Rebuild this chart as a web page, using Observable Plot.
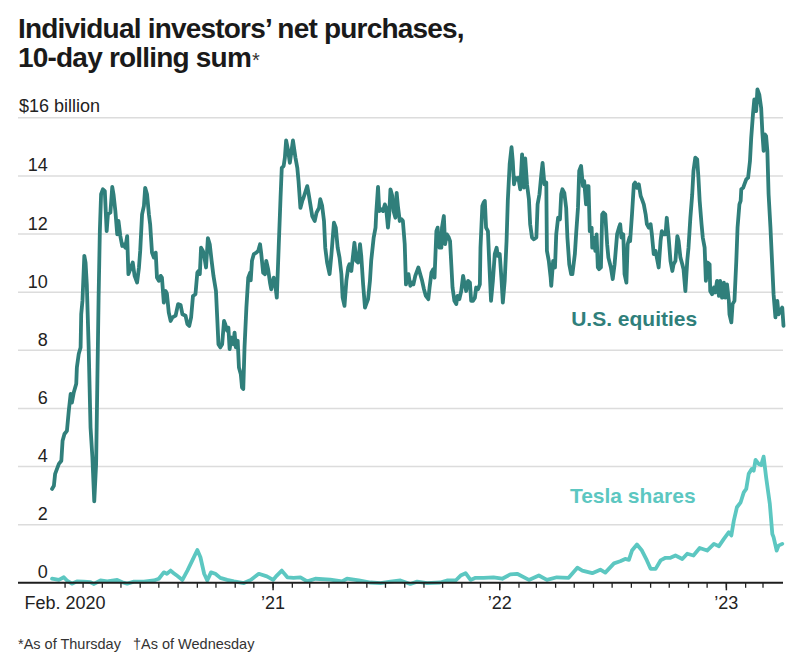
<!DOCTYPE html>
<html><head><meta charset="utf-8">
<script src="https://cdn.jsdelivr.net/npm/d3@7"></script>
<script src="https://cdn.jsdelivr.net/npm/@observablehq/plot@0.6"></script>
<style>
body{margin:0;background:#fff;width:806px;height:666px;overflow:hidden;position:relative;font-family:"Liberation Sans",Arial,sans-serif;}
#chart{position:absolute;left:0;top:0}
#title{position:absolute;left:18px;top:13.5px;font-weight:700;font-size:28px;line-height:29px;color:#1a1a1a;letter-spacing:-0.8px;white-space:nowrap}
#title .ast{font-size:20px;font-weight:400;letter-spacing:0;color:#333;margin-left:1px}
#note{position:absolute;left:18px;top:636px;font-size:14.5px;color:#333;white-space:nowrap}
</style></head>
<body>
<div id="chart"></div>
<div id="title">Individual investors’ net purchases,<br>10-day rolling sum<span class="ast">*</span></div>
<div id="note">*As of Thursday&nbsp;&nbsp;&nbsp;†As of Wednesday</div>
<script>
const equityDates = ["2020-01-11","2020-01-14","2020-01-16","2020-01-22","2020-01-26","2020-01-28","2020-01-31","2020-02-04","2020-02-07","2020-02-10","2020-02-12","2020-02-15","2020-02-19","2020-02-20","2020-02-23","2020-02-26","2020-02-27","2020-02-29","2020-03-03","2020-03-05","2020-03-07","2020-03-10","2020-03-13","2020-03-16","2020-03-19","2020-03-22","2020-03-24","2020-03-26","2020-03-28","2020-03-30","2020-04-02","2020-04-05","2020-04-08","2020-04-10","2020-04-14","2020-04-17","2020-04-19","2020-04-22","2020-04-25","2020-04-27","2020-04-30","2020-05-03","2020-05-05","2020-05-08","2020-05-11","2020-05-13","2020-05-16","2020-05-20","2020-05-23","2020-05-27","2020-05-30","2020-06-01","2020-06-04","2020-06-07","2020-06-09","2020-06-12","2020-06-15","2020-06-17","2020-06-20","2020-06-23","2020-06-26","2020-06-28","2020-07-01","2020-07-04","2020-07-06","2020-07-09","2020-07-12","2020-07-14","2020-07-17","2020-07-20","2020-07-23","2020-07-28","2020-08-01","2020-08-05","2020-08-08","2020-08-13","2020-08-16","2020-08-19","2020-08-22","2020-08-25","2020-08-29","2020-09-01","2020-09-03","2020-09-05","2020-09-07","2020-09-10","2020-09-12","2020-09-15","2020-09-18","2020-09-21","2020-09-24","2020-09-27","2020-10-01","2020-10-03","2020-10-05","2020-10-08","2020-10-11","2020-10-14","2020-10-16","2020-10-19","2020-10-21","2020-10-23","2020-10-26","2020-10-29","2020-10-31","2020-11-02","2020-11-05","2020-11-07","2020-11-10","2020-11-12","2020-11-14","2020-11-16","2020-11-19","2020-11-22","2020-11-25","2020-11-26","2020-11-28","2020-12-01","2020-12-05","2020-12-08","2020-12-11","2020-12-13","2020-12-16","2020-12-19","2020-12-21","2020-12-24","2020-12-27","2020-12-29","2021-01-02","2021-01-05","2021-01-07","2021-01-10","2021-01-13","2021-01-15","2021-01-18","2021-01-20","2021-01-22","2021-01-25","2021-01-28","2021-02-02","2021-02-06","2021-02-09","2021-02-11","2021-02-14","2021-02-17","2021-02-19","2021-02-25","2021-02-27","2021-03-02","2021-03-05","2021-03-09","2021-03-12","2021-03-16","2021-03-18","2021-03-21","2021-03-24","2021-03-26","2021-03-29","2021-04-02","2021-04-05","2021-04-09","2021-04-12","2021-04-15","2021-04-18","2021-04-21","2021-04-23","2021-04-26","2021-04-29","2021-05-02","2021-05-04","2021-05-07","2021-05-10","2021-05-12","2021-05-15","2021-05-18","2021-05-21","2021-05-23","2021-05-26","2021-05-29","2021-05-31","2021-06-03","2021-06-06","2021-06-08","2021-06-12","2021-06-15","2021-06-16","2021-06-19","2021-06-21","2021-06-24","2021-06-27","2021-06-30","2021-07-02","2021-07-05","2021-07-07","2021-07-09","2021-07-12","2021-07-14","2021-07-17","2021-07-19","2021-07-21","2021-07-24","2021-07-27","2021-07-29","2021-08-01","2021-08-03","2021-08-05","2021-08-07","2021-08-10","2021-08-13","2021-08-15","2021-08-18","2021-08-23","2021-08-26","2021-08-29","2021-09-01","2021-09-04","2021-09-08","2021-09-10","2021-09-13","2021-09-16","2021-09-18","2021-09-21","2021-09-23","2021-09-26","2021-09-29","2021-09-30","2021-10-03","2021-10-05","2021-10-08","2021-10-11","2021-10-13","2021-10-15","2021-10-17","2021-10-20","2021-10-23","2021-10-25","2021-10-28","2021-10-31","2021-11-03","2021-11-05","2021-11-08","2021-11-11","2021-11-14","2021-11-16","2021-11-19","2021-11-22","2021-11-24","2021-11-27","2021-11-30","2021-12-01","2021-12-04","2021-12-06","2021-12-08","2021-12-10","2021-12-13","2021-12-15","2021-12-18","2021-12-21","2021-12-24","2021-12-27","2021-12-29","2022-01-01","2022-01-04","2022-01-06","2022-01-09","2022-01-12","2022-01-14","2022-01-17","2022-01-20","2022-01-22","2022-01-24","2022-01-26","2022-01-29","2022-01-31","2022-02-03","2022-02-06","2022-02-09","2022-02-11","2022-02-14","2022-02-17","2022-02-19","2022-02-22","2022-02-25","2022-03-01","2022-03-03","2022-03-06","2022-03-09","2022-03-11","2022-03-14","2022-03-17","2022-03-18","2022-03-21","2022-03-24","2022-03-25","2022-03-28","2022-03-31","2022-04-02","2022-04-05","2022-04-08","2022-04-10","2022-04-12","2022-04-15","2022-04-18","2022-04-20","2022-04-23","2022-04-26","2022-04-28","2022-05-02","2022-05-04","2022-05-07","2022-05-09","2022-05-12","2022-05-15","2022-05-17","2022-05-20","2022-05-22","2022-05-24","2022-05-26","2022-05-29","2022-05-30","2022-06-01","2022-06-04","2022-06-06","2022-06-08","2022-06-10","2022-06-13","2022-06-15","2022-06-17","2022-06-20","2022-06-23","2022-06-25","2022-06-29","2022-07-02","2022-07-05","2022-07-09","2022-07-12","2022-07-14","2022-07-16","2022-07-19","2022-07-21","2022-07-24","2022-07-26","2022-07-29","2022-07-30","2022-08-02","2022-08-05","2022-08-07","2022-08-10","2022-08-13","2022-08-16","2022-08-18","2022-08-21","2022-08-24","2022-08-26","2022-08-29","2022-09-01","2022-09-03","2022-09-06","2022-09-09","2022-09-11","2022-09-14","2022-09-17","2022-09-19","2022-09-22","2022-09-25","2022-09-27","2022-09-30","2022-10-03","2022-10-06","2022-10-08","2022-10-11","2022-10-14","2022-10-16","2022-10-19","2022-10-22","2022-10-24","2022-10-27","2022-10-30","2022-11-01","2022-11-04","2022-11-07","2022-11-09","2022-11-12","2022-11-15","2022-11-17","2022-11-19","2022-11-22","2022-11-24","2022-11-27","2022-11-29","2022-12-02","2022-12-05","2022-12-06","2022-12-09","2022-12-12","2022-12-14","2022-12-17","2022-12-20","2022-12-22","2022-12-25","2022-12-28","2022-12-30","2023-01-02","2023-01-05","2023-01-06","2023-01-09","2023-01-11","2023-01-14","2023-01-17","2023-01-19","2023-01-22","2023-01-24","2023-01-25","2023-01-28","2023-01-30","2023-02-02","2023-02-05","2023-02-08","2023-02-10","2023-02-13","2023-02-15","2023-02-18","2023-02-20","2023-02-23","2023-02-26","2023-02-28","2023-03-02","2023-03-04","2023-03-06","2023-03-08","2023-03-10","2023-03-13","2023-03-16","2023-03-18","2023-03-21","2023-03-24","2023-03-26","2023-03-29","2023-04-01","2023-04-03"];
const equityValues = [3.23,3.34,3.75,4.09,4.2,4.89,5.12,5.23,5.92,6.5,6.2,6.55,6.85,7.41,7.87,8.1,9.24,9.7,11.25,11.02,10.27,8.1,5.35,4.32,2.8,4.09,6.95,9.81,12.1,13.37,13.54,13.48,12.1,12.68,12.74,13.62,13.37,12.79,11.99,12.45,11.93,11.59,11.65,11.53,11.93,10.62,10.79,11.02,10.56,10.33,10.85,11.42,12.68,12.97,13.59,13.37,12.68,12.34,11.36,11.19,11.36,10.5,10.39,10.56,10.5,9.64,10.04,9.95,9.3,9.01,9.13,9.19,9.59,9.56,9.24,9.19,8.9,8.84,9.13,9.87,9.93,10.67,10.73,10.62,11.53,11.42,11.25,10.85,11.86,11.65,11.08,10.56,10.04,9.13,8.21,8.1,8.21,9.01,8.9,8.67,8.78,8.04,8.44,8.21,8.61,8.1,8.33,7.41,7.18,6.72,6.67,8.1,9.47,10.5,10.67,10.41,11.08,11.31,11.36,11.42,11.65,11.31,10.67,10.62,11.08,10.79,10.33,10.1,10.5,10.16,9.81,11.53,13.25,14.28,14.34,14.63,15.22,14.9,14.45,15.22,14.63,14.28,13.82,12.9,13.14,13.25,13.65,13.42,13.02,12.62,12.45,12.74,12.9,13.2,12.97,12.45,11.53,11.02,10.62,11.31,12.39,12.22,11.53,11.19,10.62,9.81,9.53,10.39,10.85,10.96,10.73,11.31,11.7,11.08,11.02,11.65,11.25,10.27,9.47,9.59,9.76,10.39,11.08,11.88,12.22,12.68,13.62,12.79,12.85,12.79,13.02,12.9,12.22,12.68,13.54,13.31,12.79,12.56,13.42,12.97,12.45,12.51,12.45,11.65,10.27,10.5,10.62,10.22,10.33,10.27,10.56,10.85,10.62,10.39,10.1,9.87,9.76,10.16,10.67,10.79,10.5,12.1,12.22,11.53,11.53,12.22,12.62,11.65,11.99,11.88,11.76,10.96,10.16,9.7,9.59,9.87,9.76,10.04,10.56,10.33,10.04,10.39,10.33,9.7,9.7,9.81,10.16,10.1,10.27,11.53,12.97,13.08,13.14,12.22,12.1,11.08,9.7,10.39,11.31,11.53,11.25,11.31,10.39,9.64,10.39,11.76,13.14,14.4,14.99,14.51,13.71,13.94,13.88,13.94,13.54,14.74,13.6,14.6,13.7,13.2,12.34,11.88,11.82,11.88,13.02,13.37,14.05,14.45,13.71,13.77,11.42,11.08,10.5,10.22,11.08,10.85,11.99,12.56,12.51,13.37,13.54,13.42,12.9,11.88,10.96,10.62,10.62,11.31,11.99,12.9,14.17,14.34,13.65,13.82,13.02,13.65,13.65,12.1,12.22,11.53,11.88,11.42,11.99,10.85,10.79,10.85,12.68,12.74,12.68,11.65,11.19,10.85,10.45,10.96,11.99,12.22,12.34,11.88,11.99,10.62,10.33,11.65,11.88,11.76,12.68,13.71,13.77,13.59,13.71,13.31,13.2,13.02,12.68,12.34,12.22,12.34,11.99,11.31,11.42,11.19,10.85,11.76,12.1,11.99,11.99,12.56,11.88,11.08,10.73,10.96,11.08,11.93,11.76,11.19,10.96,10.79,10.04,11.08,11.53,12.56,13.37,14.17,14.63,14.57,13.94,13.14,12.34,11.88,11.53,10.39,11.02,10.96,10.04,9.93,10.16,9.99,10.39,9.87,10.39,9.81,10.33,9.81,10.27,9.7,9.24,8.96,9.59,9.7,11.08,12.22,13.02,13.14,13.54,13.59,13.71,13.88,13.94,14.51,15.31,16.17,16.63,16.23,16.98,16.8,16.34,15.48,14.86,15.43,15.37,14.86,13.37,12.22,10.85,9.93,9.13,9.7,9.24,9.36,9.47,8.84];

const teslaDates = ["2020-01-11","2020-01-22","2020-01-30","2020-02-04","2020-02-12","2020-02-20","2020-03-02","2020-03-13","2020-03-18","2020-03-29","2020-04-09","2020-04-25","2020-05-03","2020-05-11","2020-05-22","2020-06-07","2020-06-23","2020-07-01","2020-07-09","2020-07-14","2020-07-20","2020-07-25","2020-07-30","2020-08-08","2020-08-16","2020-08-24","2020-09-01","2020-09-06","2020-09-12","2020-09-17","2020-09-23","2020-09-30","2020-10-08","2020-10-19","2020-10-30","2020-11-15","2020-11-26","2020-12-09","2020-12-22","2021-01-01","2021-01-07","2021-01-15","2021-01-24","2021-02-03","2021-02-14","2021-02-25","2021-03-10","2021-04-03","2021-04-22","2021-04-30","2021-05-19","2021-06-07","2021-06-23","2021-07-09","2021-07-25","2021-08-10","2021-08-21","2021-09-06","2021-09-27","2021-10-08","2021-10-22","2021-10-30","2021-11-07","2021-11-15","2021-11-23","2021-12-06","2021-12-22","2022-01-05","2022-01-18","2022-01-29","2022-02-17","2022-03-05","2022-03-18","2022-04-03","2022-04-22","2022-05-06","2022-05-14","2022-05-30","2022-06-12","2022-06-20","2022-07-04","2022-07-14","2022-07-22","2022-07-28","2022-08-02","2022-08-10","2022-08-18","2022-08-26","2022-09-01","2022-09-09","2022-09-17","2022-09-25","2022-10-03","2022-10-11","2022-10-22","2022-10-30","2022-11-09","2022-11-19","2022-12-01","2022-12-12","2022-12-20","2022-12-28","2023-01-05","2023-01-09","2023-01-13","2023-01-18","2023-01-24","2023-01-29","2023-02-02","2023-02-06","2023-02-11","2023-02-14","2023-02-17","2023-02-22","2023-02-26","2023-03-02","2023-03-06","2023-03-12","2023-03-16","2023-03-18","2023-03-23","2023-03-26","2023-04-01"];
const teslaValues = [0.14,0.1,0.19,0.08,-0.03,0.05,0.04,0.02,-0.04,0.08,0.05,0.1,0.02,-0.03,0.04,0.04,0.08,0.14,0.36,0.31,0.42,0.33,0.25,0.1,0.42,0.77,1.13,0.88,0.31,0.08,0.36,0.31,0.17,0.1,0.05,-0.01,0.1,0.31,0.22,0.1,0.25,0.42,0.19,0.17,0.19,0.05,0.14,0.11,0.05,0.14,0.08,0.01,-0.01,0.04,0.08,-0.04,0.04,-0.01,0.01,0.08,0.08,0.25,0.33,0.1,0.17,0.17,0.19,0.14,0.29,0.31,0.1,0.25,0.1,0.19,0.17,0.52,0.42,0.33,0.45,0.35,0.67,0.74,0.82,0.79,1.11,1.32,1.11,0.77,0.48,0.48,0.77,0.86,0.86,0.94,0.82,1.0,0.94,1.2,1.11,1.34,1.26,1.51,1.74,1.63,2.14,2.6,2.77,3.11,3.23,3.75,3.92,3.86,4.23,4.09,4.05,4.34,3.63,2.71,1.68,1.57,1.11,1.28,1.34];

const yTickValues = [0, 2, 4, 6, 8, 10, 12, 14];
const yTopTick = 16;
const gridValues = [2, 4, 6, 8, 10, 12, 14, 16];
const xLabelDates = ["2020-02-01", "2021-01-01", "2022-01-01", "2023-01-01"];
const xLabelTexts = ["Feb. 2020", "’21", "’22", "’23"];
const seriesLabels = [
  {name: "U.S. equities", date: "2022-04-26", value: 8.85, color: "#307f7b"},
  {name: "Tesla shares", date: "2022-04-24", value: 2.75, color: "#5cc7c1"}
];

const parse = d3.utcParse("%Y-%m-%d");
const equities = equityDates.map((d, i) => ({date: parse(d), value: equityValues[i]}));
const tesla = teslaDates.map((d, i) => ({date: parse(d), value: teslaValues[i]}));
const labels = seriesLabels.map(d => ({...d, date: parse(d.date)}));
const monthTicks = d3.utcMonth.range(parse("2020-02-01"), parse("2023-03-02"));
const yearTicks = xLabelDates.slice(1).map(parse);
const labelTicks = xLabelDates.map(parse);
const labelMap = new Map(labelTicks.map((d, i) => [+d, xLabelTexts[i]]));

const font = '"Liberation Sans",Arial,sans-serif';

const chart = Plot.plot({
  width: 806,
  height: 620,
  marginLeft: 18,
  marginRight: 23,
  marginTop: 117.3,
  marginBottom: 37.7,
  style: {background: "transparent", fontFamily: font, overflow: "visible"},
  x: {type: "utc", domain: [parse("2019-11-18"), parse("2023-04-03")]},
  y: {domain: [0, 16]},
  marks: [
    Plot.ruleY(gridValues, {stroke: "#dcdcdc", strokeWidth: 1.5}),
    Plot.axisY(yTickValues, {anchor: "left", tickSize: 0, tickPadding: 0, dx: 29.3, dy: -4.5, textAnchor: "end", lineAnchor: "bottom", fontSize: 18, fill: "#222", label: null, tickFormat: d => String(d)}),
    Plot.axisY([yTopTick], {anchor: "left", tickSize: 0, tickPadding: 0, dx: 0.5, dy: -5.5, textAnchor: "start", lineAnchor: "bottom", fontSize: 18, fill: "#222", label: null, tickFormat: d => `$${d} billion`}),
    Plot.line(tesla, {x: "date", y: "value", stroke: "#5cc7c1", strokeWidth: 3.8, strokeLinejoin: "round", strokeLinecap: "round"}),
    Plot.line(equities, {x: "date", y: "value", stroke: "#307f7b", strokeWidth: 3.8, strokeLinejoin: "round", strokeLinecap: "round"}),
    Plot.ruleY([0], {stroke: "#1e1e1e", strokeWidth: 2}),
    Plot.axisX(monthTicks, {anchor: "bottom", tickSize: 5.5, strokeWidth: 1.3, stroke: "#222", tickFormat: () => "", label: null}),
    Plot.axisX(yearTicks, {anchor: "bottom", tickSize: 8, strokeWidth: 1.5, stroke: "#222", tickFormat: () => "", label: null}),
    Plot.axisX(labelTicks, {anchor: "bottom", tickSize: 0, tickPadding: 13, fontSize: 18, fill: "#222", label: null, tickFormat: d => labelMap.get(+d)}),
    Plot.text(labels, {x: "date", y: "value", text: "name", fill: "color", textAnchor: "start", lineAnchor: "bottom", fontSize: 21, fontWeight: 700, fontFamily: font})
  ]
});
document.getElementById("chart").appendChild(chart);
</script>
</body></html>
